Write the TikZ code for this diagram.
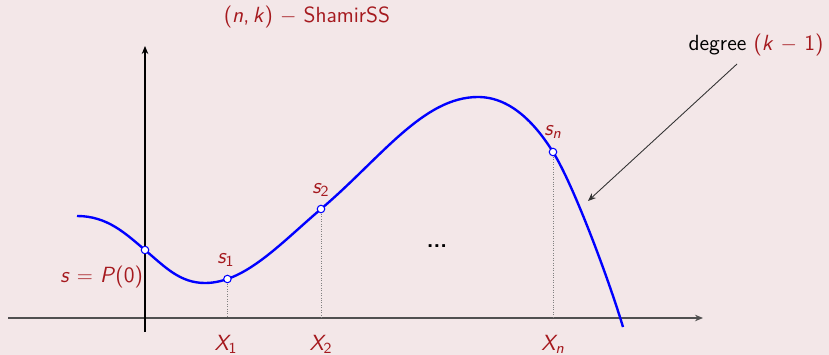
\documentclass[tikz,border=0pt]{standalone}
\usepackage{amsmath}
\usetikzlibrary{arrows.meta}
\definecolor{bg}{RGB}{243,231,232}
\definecolor{alert}{RGB}{165,25,30}
\definecolor{axisgray}{RGB}{80,80,80}
\begin{document}
\begin{tikzpicture}[x=0.02cm,y=-0.02cm,
  font=\sffamily\fontsize{12.5}{15}\selectfont,
  lbl/.style={text=alert,inner sep=1pt},
  pt/.style={circle,draw=blue,fill=white,line width=0.6pt,inner sep=0pt,minimum size=0.15cm},
  drop/.style={densely dotted,gray,line width=0.4pt},
  tip/.style={-{Stealth[length=0.16cm,width=0.13cm]}}]
\fill[bg] (0,0) rectangle (829,355);
\useasboundingbox (0,0) rectangle (829,355);
% axes
\coordinate (xa0) at (8,318);
\coordinate (xa1) at (703,318);
\coordinate (ya0) at (145,332);
\coordinate (ya1) at (145,46);
\draw[tip,axisgray,line width=0.7pt] (xa0) -- (xa1);
\draw[tip,black,line width=0.6pt] (ya0) -- (ya1);
% curve
\path (77,216) .. controls (107,216) and (125,233) .. coordinate[pos=1] (c0) (145,250)
  .. controls (165,267) and (180,283) .. (205,283)
  .. controls (245,283) and (281,243) .. coordinate[pos=0.19] (c1) (321,209)
  coordinate (c2)
  .. controls (381,158) and (423,97) .. (478,97)
  .. controls (513,97) and (538,128) .. (553,152) coordinate (cn)
  .. controls (573,184) and (608,277) .. (623,327);
\draw[blue,line width=1.35pt] (77,216) .. controls (107,216) and (125,233) .. (145,250)
  .. controls (165,267) and (180,283) .. (205,283)
  .. controls (245,283) and (281,243) .. (321,209)
  .. controls (381,158) and (423,97) .. (478,97)
  .. controls (513,97) and (538,128) .. (553,152)
  .. controls (573,184) and (608,277) .. (623,327);
% drop lines
\draw[drop] (c1) -- (c1 |- xa0);
\draw[drop] (c2) -- (c2 |- xa0);
\draw[drop] (cn) -- (cn |- xa0);
% points
\node[pt] (p0) at (c0) {};
\node[pt] (p1) at (c1) {};
\node[pt] (p2) at (c2) {};
\node[pt] (pn) at (cn) {};
% labels
\node[lbl] (lx1) at (226,344) {$\textsl{X}_{\textsf{1}}$};
\node[lbl] (lx2) at (321,344) {$\textsl{X}_{\textsf{2}}$};
\node[lbl] (lxn) at (553,344) {$\textsl{X}_{\textsl{n}}$};
\node[lbl] (ls1) at (226,260) {$\textsl{s}_{\textsf{1}}$};
\node[lbl] (ls2) at (321,190) {$\textsl{s}_{\textsf{2}}$};
\node[lbl] (lsn) at (553,132) {$\textsl{s}_{\textsl{n}}$};
\node[lbl,anchor=east] (ls0) at (145,277) {\textsl{s} $=$ \textsl{P}(0)};
\node (dots) at (437,246) {\textbf{...}};
\node[lbl] (title) at (307,17) {(\textsl{n},\,\textsl{k}) $-$ ShamirSS};
\node (deg) at (756,45) {degree \textcolor{alert}{(\textsl{k} $-$ 1)}};
\coordinate (dstart) at (737,64);
\coordinate (dend) at (588,201);
\draw[tip,black!80,line width=0.5pt] (dstart) -- (dend);
\end{tikzpicture}
\end{document}
